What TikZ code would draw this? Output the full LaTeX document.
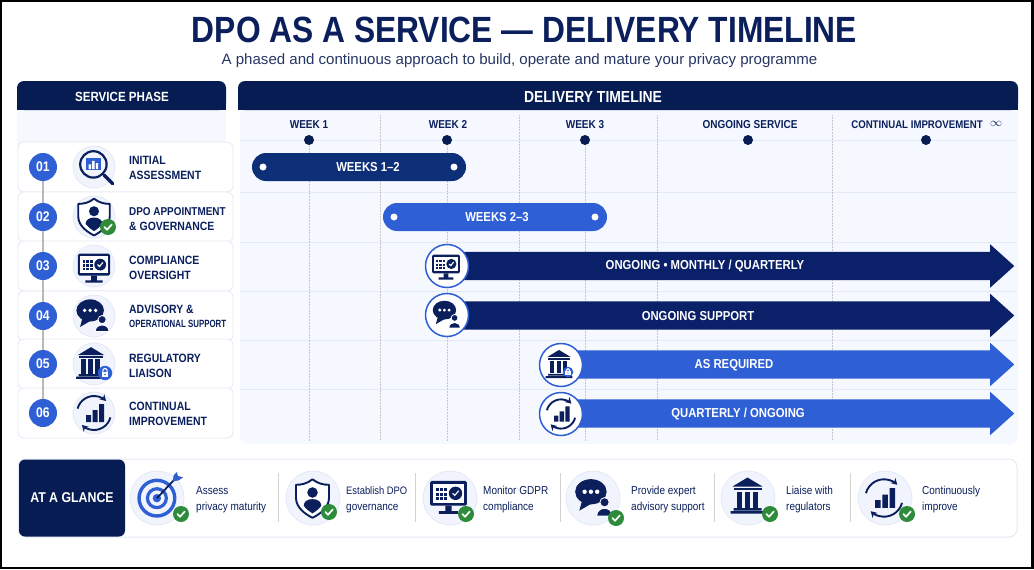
\documentclass[tikz,border=0pt]{standalone}
\usepackage{fontspec}
\setmainfont{Liberation Sans}
\newfontfamily\condfont[FakeStretch=0.87]{Liberation Sans}
\newfontfamily\tightfont[FakeStretch=0.75]{Liberation Sans}
\usepackage{xcolor}
\usetikzlibrary{arrows.meta, positioning, shapes.arrows}

\definecolor{navy}{HTML}{0A1F5C}
\definecolor{headblue}{HTML}{061C52}
\definecolor{darkbar}{HTML}{0C2F78}
\definecolor{arrowdark}{HTML}{0A2068}
\definecolor{midblue}{HTML}{2F5FD5}
\definecolor{panelbg}{HTML}{F5F8FE}
\definecolor{linebg}{HTML}{E3E9F6}
\definecolor{halobg}{HTML}{F1F4FC}
\definecolor{okgreen}{HTML}{2E8B3A}

\tikzset{
  pics/checkbadge/.style={code={
    \fill[okgreen] (0,0) circle (8);
    \draw[white,line width=1.7,line cap=round,line join=round] (-3.6,0) -- (-1,2.8) -- (3.8,-2.6);}},
  pics/lockbadge/.style={code={
    \fill[midblue] (0,0) circle (8);
    \draw[white,line width=1.1] (-2.4,-1) -- (-2.4,-2.6) arc (180:360:2.4) -- (2.4,-1);
    \fill[white] (-3.8,-1) rectangle (3.8,4.4);
    \fill[midblue] (0,1.6) circle (1);}},
  pics/magnifier/.style={code={
    \draw[navy,line width=2.2] (-3,-3) circle (11);
    \fill[midblue] (-9,-8) rectangle (3,2);
    \fill[white] (-7,-3) rectangle (-5,1) (-4,-6) rectangle (-2,1) (-1,-4) rectangle (1,1);
    \draw[navy,line width=3.4,line cap=round] (6,6) -- (13,13);}},
  pics/shield/.style={code={
    \draw[navy,line width=1.9,line join=round,fill=white] (0,-17) .. controls (5,-13) and (10,-12) .. (15,-12) -- (15,0)
      .. controls (15,9) and (6,15) .. (0,18) .. controls (-6,15) and (-15,9) .. (-15,0) -- (-15,-12)
      .. controls (-10,-12) and (-5,-13) .. (0,-17) -- cycle;
    \fill[navy] (0,-5) circle (4.8);
    \fill[navy] (-8,7) .. controls (-8,-1) and (8,-1) .. (8,7) .. controls (6,10) and (3,12) .. (0,14)
      .. controls (-3,12) and (-6,10) .. (-8,7) -- cycle;}},
  pics/monitor/.style={code={
    \fill[navy,rounded corners=1.5] (-17,-14) rectangle (17,9);
    \fill[white] (-14.5,-11.5) rectangle (14.5,6.5);
    \foreach \i in {-12,-8,-4} \foreach \j in {-7,-3,1} \fill[navy] (\i,\j) rectangle ++(2.8,2.6);
    \fill[navy] (6.5,-2.5) circle (6.2);
    \draw[white,line width=1.1] (3.8,-2.5) -- (5.8,-0.5) -- (9.4,-4.8);
    \fill[navy] (-3,9) rectangle (3,14) (-9,14) rectangle (9,16.5);}},
  pics/chatbubble/.style={code={
    \fill[navy] (-2,-5) ellipse [x radius=15, y radius=12];
    \fill[navy] (-10,2) -- (-13,13) -- (-1,6) -- cycle;
    \foreach \i in {-8,-2,4} \fill[white] (\i,-5) circle (2.1);
    \fill[navy,draw=white,line width=0.8] (11,5) circle (4.4);
    \fill[navy,draw=white,line width=0.8] (3.5,18) .. controls (3.5,8.5) and (18.5,8.5) .. (18.5,18) -- cycle;}},
  pics/bank/.style={code={
    \fill[navy] (-15,-9) -- (0,-18) -- (15,-9) -- cycle;
    \fill[navy] (-14,-8) rectangle (14,-5.5);
    \foreach \i in {-11,-3,5} \fill[navy] (\i,-4) rectangle ++(5,16);
    \fill[navy] (-14,12.5) rectangle (14,15) (-17,15.5) rectangle (17,18);}},
  pics/cyclebars/.style={code={
    \draw[navy,line width=1.9,-{Stealth[length=6,width=7]}] (0,0) ++(195:17) arc (195:315:17);
    \draw[navy,line width=1.9,-{Stealth[length=6,width=7]}] (0,0) ++(15:17) arc (15:135:17);
    \fill[navy] (-8,2) rectangle (-3,9) (-1.5,-3) rectangle (3.5,9) (5,-9) rectangle (10,9);}},
  pics/bullseye/.style={code={
    \draw[midblue,line width=3.4] (-2,3) circle (17);
    \draw[midblue,line width=3.2] (-2,3) circle (9);
    \fill[midblue] (-2,3) circle (4);
    \draw[navy,line width=1.8] (-2,3) -- (14,-14);
    \fill[midblue] (13,-13) -- (14,-19) -- (17,-22) -- (18,-18) -- (23,-17) -- (19,-14) -- cycle;}},
  panelhead/.style={fill=headblue, text=white, font=\condfont\bfseries\fontsize{13.3}{14}\selectfont, inner sep=0pt},
  phasebox/.style={draw=linebg, fill=white, rounded corners=6, minimum width=215, minimum height=50, inner sep=0pt, line width=0.8},
  numdot/.style={circle, fill=midblue, text=white, minimum size=28, inner sep=0pt, font=\condfont\bfseries\fontsize{14}{14}\selectfont},
  phaselabel/.style={anchor=west, align=left, text=navy, inner sep=0pt, font=\condfont\bfseries\fontsize{12}{15}\selectfont},
  halo/.style={circle, fill=halobg, draw=linebg, line width=0.8, minimum size=42, inner sep=0pt},
  weeklabel/.style={text=navy, inner sep=0pt, text height=8.5, text depth=0, font=\condfont\bfseries\fontsize{11.5}{14}\selectfont},
  weekdot/.style={circle, fill=headblue, minimum size=10, inner sep=0pt},
  gridline/.style={densely dotted, draw=gray!45, line width=0.5},
  rowline/.style={draw=linebg, line width=0.8},
  pillbar/.style={rounded corners=14, minimum height=28, inner sep=0pt},
  pillpin/.style={circle, fill=white, minimum size=7, inner sep=0pt},
  longarrow/.style={single arrow, single arrow head extend=7.5, single arrow tip angle=84,
    single arrow head indent=0, minimum height=552, text height=28, text depth=0, text width=1, inner sep=0pt, anchor=west},
  barlabel/.style={text=white, inner sep=0pt, font=\condfont\bfseries\fontsize{13}{14}\selectfont},
  iconring/.style={circle, fill=white, draw=midblue, line width=1.5, minimum size=43, inner sep=0pt},
  glancehalo/.style={circle, fill=halobg, draw=linebg, line width=0.8, minimum size=54, inner sep=0pt},
  glancetext/.style={anchor=west, align=left, text=navy, inner sep=0pt, font=\condfont\fontsize{11.5}{16}\selectfont},
  glancesep/.style={draw=gray!35, line width=1},
}

\begin{document}
\begin{tikzpicture}[x=1pt, y=-1pt]
  \useasboundingbox (0,0) rectangle (1034,570);
  \fill[white] (0,0) rectangle (1034,570);
  \draw[black, line width=2.4] (1,1) rectangle (1032.5,568);

  % title
  \node[text=navy, inner sep=0pt, font=\condfont\bfseries\fontsize{36.5}{36}\selectfont] (title) at (524.5,30) {DPO AS A SERVICE — DELIVERY TIMELINE};
  \node[text=navy!75!gray, inner sep=0pt, font=\fontsize{15.05}{16}\selectfont] (subtitle) at (519.5,61) {A phased and continuous approach to build, operate and mature your privacy programme};

  % panels
  \fill[panelbg] (17,110) rectangle (226,145);
  \fill[panelbg, rounded corners=8] (240,105) rectangle (1018,444);
  \fill[headblue, rounded corners=7] (17,110) -- (17,81) -- (226,81) -- (226,110) -- cycle;
  \fill[headblue] (17,95) rectangle (226,110);
  \fill[headblue, rounded corners=7] (238,110) -- (238,81) -- (1018,81) -- (1018,110) -- cycle;
  \fill[headblue] (238,95) rectangle (1018,110);
  \node[panelhead] (phasehead) at (122,97) {SERVICE PHASE};
  \node[panelhead, font=\condfont\bfseries\fontsize{16}{16}\selectfont] (timehead) at (593,97) {DELIVERY TIMELINE};

  % grid
  \foreach \y in {140,192,242,291,340,389}
    \draw[rowline] (240,\y) -- (1017,\y);
  \foreach \x in {380,519,657,832}
    \draw[gridline] (\x,115) -- (\x,440);
  \foreach \x in {309,447,585}
    \draw[gridline] (\x,146) -- (\x,441);

  % weeks
  \node[weeklabel] (wk1) at (309,124) {WEEK 1};
  \node[weeklabel] (wk2) at (448,124) {WEEK 2};
  \node[weeklabel] (wk3) at (585,124) {WEEK 3};
  \node[weeklabel] (wk4) at (750,124) {ONGOING SERVICE};
  \node[weeklabel, font=\condfont\bfseries\fontsize{11.1}{14}\selectfont] (wk5) at (917,124) {CONTINUAL IMPROVEMENT};
  \node[text=navy, inner sep=0pt, font=\fontsize{13}{13}\selectfont, right=7 of wk5] (wkinf) {$\infty$};
  \foreach \x/\n in {309/a,447/b,585/c,748/d,926/e}
    \node[weekdot] (dot\n) at (\x,140) {};

  % short bars
  \node[pillbar, fill=darkbar, minimum width=214] (barone) at (359,167) {};
  \node[barlabel] (baronelabel) at (368,167) {WEEKS 1–2};
  \node[pillpin] (pinonea) at (263,167) {};
  \node[pillpin] (pinoneb) at (454,167) {};
  \node[pillbar, fill=midblue, minimum width=224] (bartwo) at (495,217) {};
  \node[barlabel] (bartwolabel) at (497,217) {WEEKS 2–3};
  \node[pillpin] (pintwoa) at (394,217) {};
  \node[pillpin] (pintwob) at (595,217) {};

  % long arrows
  \node[longarrow, fill=arrowdark] (arrowc) at (462,266) {};
  \node[longarrow, fill=arrowdark] (arrowd) at (462,315.5) {};
  \node[longarrow, fill=midblue, minimum height=436] (arrowe) at (578,364.5) {};
  \node[longarrow, fill=midblue, minimum height=436] (arrowf) at (578,413.5) {};
  \node[barlabel] (arrowclabel) at (705,266) {ONGOING • MONTHLY / QUARTERLY};
  \node[barlabel] (arrowdlabel) at (698,316) {ONGOING SUPPORT};
  \node[barlabel] (arrowelabel) at (734,365) {AS REQUIRED};
  \node[barlabel] (arrowflabel) at (738,414) {QUARTERLY / ONGOING};
  \node[iconring] (ringc) at (447,266) {};
  \node[iconring] (ringd) at (447,315) {};
  \node[iconring] (ringe) at (561,365) {};
  \node[iconring] (ringf) at (561,414) {};
  \pic[scale=0.82] at (446,266) {monitor};
  \pic[scale=0.78] at (446,314) {chatbubble};
  \pic[scale=0.78] at (559,364) {bank};
  \pic[scale=0.66] at (568,372) {lockbadge};
  \pic[scale=0.86] at (561,414) {cyclebars};

  % phase column
  \foreach \y/\n in {167/1,217/2,266/3,316/4,364/5,413/6}
    \node[phasebox] (card\n) at (125.5,\y) {};
  \foreach \y/\n in {167/1,217/2,266/3,316/4,364/5,413/6}
    \node[numdot] (num\n) at (43,\y) {0\n};
  \foreach \a/\b in {1/2,2/3,3/4,4/5,5/6}
    \draw[gray!55, line width=1.6] (num\a) -- (num\b);
  \foreach \y/\n in {167/1,217/2,266/3,316/4,364/5,413/6}
    \node[halo] (halo\n) at (94,\y) {};
  \pic[scale=1.2] at (97,168) {magnifier};
  \pic[scale=1.05] at (94,216.5) {shield};
  \pic at (108,227) {checkbadge};
  \pic[scale=0.95] at (94,267) {monitor};
  \pic[scale=0.92] at (92,315) {chatbubble};
  \pic[scale=0.88] at (91,363) {bank};
  \pic[scale=0.9] at (105,373) {lockbadge};
  \pic at (94,413) {cyclebars};
  \node[phaselabel] (txt1) at (129,168) {INITIAL\\ASSESSMENT};
  \node[phaselabel] (txt2) at (129,219) {{\fontsize{11.4}{15}\selectfont DPO APPOINTMENT}\\\& GOVERNANCE};
  \node[phaselabel] (txt3) at (129,268) {COMPLIANCE\\OVERSIGHT};
  \node[phaselabel] (txt4) at (129,316) {ADVISORY \&\\[-1pt]{\tightfont\bfseries\fontsize{10.5}{15}\selectfont OPERATIONAL SUPPORT}};
  \node[phaselabel] (txt5) at (129,366) {REGULATORY\\LIAISON};
  \node[phaselabel] (txt6) at (129,414) {CONTINUAL\\IMPROVEMENT};

  % at a glance
  \draw[draw=linebg, fill=white, rounded corners=8, line width=1] (18,459) rectangle (1017,537);
  \node[fill=headblue, text=white, rounded corners=6, minimum width=106, minimum height=77, inner sep=0pt,
    font=\condfont\bfseries\fontsize{14.2}{15}\selectfont] (glance) at (72,498) {AT A GLANCE};
  \foreach \x/\n in {157/1,313/2,450/3,593/4,748/5,885/6}
    \node[glancehalo] (ghalo\n) at (\x,498) {};
  \pic[scale=1.05] at (159,495) {bullseye};
  \pic[scale=1.1] at (312.5,498) {shield};
  \pic[scale=1.08] at (448.5,496) {monitor};
  \pic[scale=1.05] at (593,497) {chatbubble};
  \pic at (747.5,495.5) {bank};
  \pic[scale=1.1] at (884,498) {cyclebars};
  \foreach \x/\y in {181/514,329/512,466/514,616/518,770/514,907/514}
    \pic at (\x,\y) {checkbadge};
  \node[glancetext] (gtxt1) at (196,500) {Assess\\privacy maturity};
  \node[glancetext] (gtxt2) at (346,500) {{\fontsize{10.8}{16}\selectfont Establish DPO}\\governance};
  \node[glancetext] (gtxt3) at (483,500) {Monitor GDPR\\compliance};
  \node[glancetext] (gtxt4) at (631,500) {Provide expert\\advisory support};
  \node[glancetext] (gtxt5) at (786,500) {Liaise with\\regulators};
  \node[glancetext] (gtxt6) at (922,500) {Continuously\\improve};
  \foreach \x in {278,415,560,714,850}
    \draw[glancesep] (\x,473) -- (\x,522);
\end{tikzpicture}
\end{document}
